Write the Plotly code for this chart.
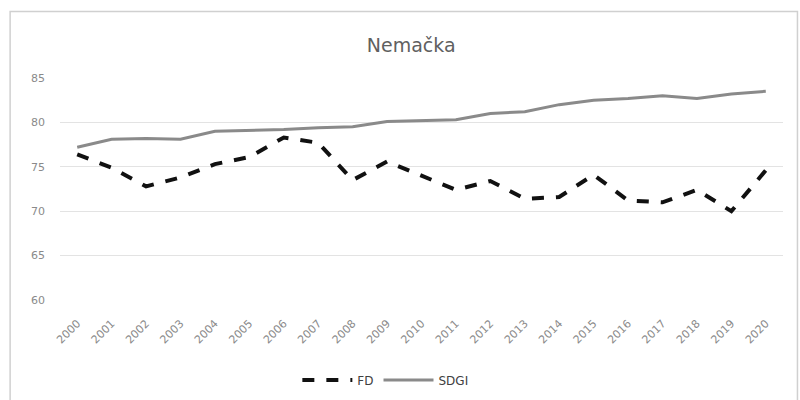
import plotly.graph_objects as go

years = [str(y) for y in range(2000, 2021)]
fd = [76.4, 74.9, 72.8, 73.8, 75.3, 76.1, 78.3, 77.7, 73.5, 75.6,
      74.0, 72.4, 73.4, 71.4, 71.6, 74.1, 71.2, 71.0, 72.4, 70.0, 74.6]
sdgi = [77.2, 78.1, 78.2, 78.1, 79.0, 79.1, 79.2, 79.4, 79.5, 80.1,
        80.2, 80.3, 81.0, 81.2, 82.0, 82.5, 82.7, 83.0, 82.7, 83.2, 83.5]
y_ticks = [60, 65, 70, 75, 80, 85]

fig = go.Figure()
fig.add_trace(go.Scatter(
    x=years, y=fd, name="FD", mode="lines",
    line=dict(color="#111111", width=4, dash="dash"),
))
fig.add_trace(go.Scatter(
    x=years, y=sdgi, name="SDGI", mode="lines",
    line=dict(color="#8a8a8a", width=3),
))

# chart-area frame
fig.add_shape(type="rect", xref="paper", yref="paper",
              x0=-0.069, x1=1.02, y0=-0.48, y1=1.3,
              line=dict(color="#d0d0d0", width=1.5), layer="below")

fig.update_layout(
    width=800, height=400,
    margin=dict(l=60, r=17, t=78, b=100),
    paper_bgcolor="white", plot_bgcolor="white",
    font=dict(family="DejaVu Sans", color="#7f7f7f", size=11),
    title=dict(text="Nemačka", x=0.514, xanchor="center",
               y=0.8875, yref="container", yanchor="middle",
               font=dict(size=19, color="#606060", family="DejaVu Sans")),
    showlegend=True,
    legend=dict(orientation="h", x=0.45, xanchor="center",
                yref="container", y=0.05, yanchor="middle",
                font=dict(size=12, color="#404040"),
                itemwidth=50, bgcolor="rgba(0,0,0,0)"),
    xaxis=dict(type="category", range=[-0.5, 20.5], tickangle=-45,
               showgrid=False, showline=False, ticks="",
               ticklabelstandoff=14, automargin=False,
               tickfont=dict(size=11, color="#8a8a8a")),
    yaxis=dict(range=[60, 85], tickvals=y_ticks, showgrid=True,
               gridcolor="#e3e3e3", gridwidth=1, zeroline=False,
               showline=False, ticks="", ticklabelstandoff=14,
               automargin=False,
               tickfont=dict(size=11, color="#8a8a8a")),
)

fig.write_html("out.html")
